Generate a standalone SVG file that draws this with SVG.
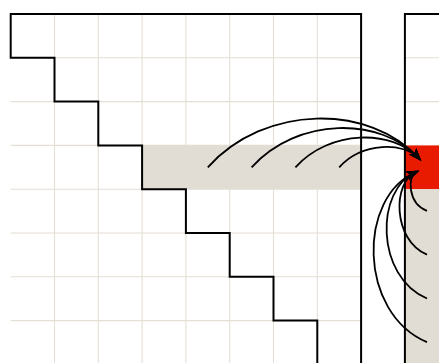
<svg xmlns="http://www.w3.org/2000/svg" width="439" height="363" viewBox="0 0 439 363">
<style>
.grid{stroke:#e5dfd5;stroke-width:1.1;fill:none}
.shade{fill:#e2ddd4}
.hot{fill:#e81a00}
.frame{stroke:#000;stroke-width:2;fill:none;stroke-linejoin:miter}
.arr{stroke:#000;stroke-width:1.8;fill:none;marker-end:url(#head)}
</style>
<defs>
<marker id="head" markerUnits="userSpaceOnUse" viewBox="-11 -6 16 12" refX="0" refY="0" markerWidth="16" markerHeight="12" orient="auto">
<path d="M3.5,0 L-9.5,-4.8 L-6.5,0 L-9.5,4.8 Z" fill="#000"/>
</marker>
</defs>
<rect width="439" height="363" fill="#fff"/>
<g id="left-matrix">
<path class="grid" d="M54.5,14V364M98.3,14V364M142.1,14V364M185.9,14V364M229.7,14V364M273.5,14V364M317.3,14V364M10.7,57.8H361.1M10.7,101.6H361.1M10.7,145.4H361.1M10.7,189.2H361.1M10.7,233H361.1M10.7,276.8H361.1M10.7,320.6H361.1"/>
<rect class="shade" x="142.1" y="145.4" width="219" height="43.8"/>
<path class="frame" d="M361.1,370V14H10.7V57.8H54.5V101.6H98.3V145.4H142.1V189.2H185.9V233H229.7V276.8H273.5V320.6H317.3V370"/>
</g>
<g id="right-matrix">
<path class="grid" d="M404.9,57.8H449M404.9,101.6H449"/>
<rect class="hot" x="404.9" y="145.4" width="44" height="43.8"/>
<rect class="shade" x="404.9" y="189.2" width="44" height="180"/>
<path class="frame" d="M404.9,370V14H449"/>
</g>
<g id="connectors">
<path class="arr" d="M207.8,167.3C265,103.8 369.8,103.8 419,158.4"/>
<path class="arr" d="M251.6,167.3C297.4,116.5 381.2,116.5 419,158.4"/>
<path class="arr" d="M295.4,167.3C329.7,129.2 392.7,129.2 419,158.4"/>
<path class="arr" d="M339.2,167.3C362.1,141.9 404.1,141.9 419,158.4"/>
<path class="arr" d="M427,210.9C407.5,203.6 407.5,176 416,172"/>
<path class="arr" d="M427,254.7C392.4,240 392.4,182 416,172"/>
<path class="arr" d="M427,298.5C375.1,276.4 375.1,189.4 416,172"/>
<path class="arr" d="M427,342.2C357.7,312.8 357.7,196.7 416,172"/>
</g>
</svg>
